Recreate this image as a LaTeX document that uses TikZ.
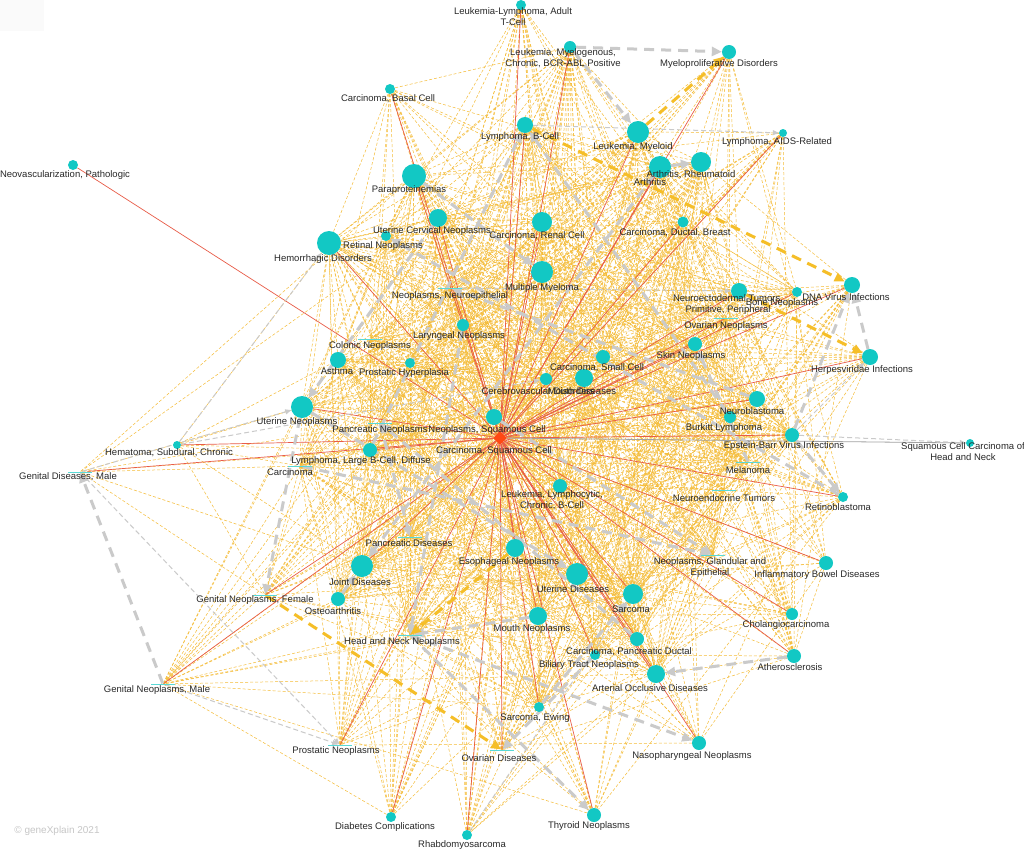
\documentclass[tikz,border=0pt]{standalone}
\usepackage{fontspec}
\setmainfont{Liberation Sans}
\usetikzlibrary{shapes.geometric,arrows.meta}
\pgfdeclarelayer{bgl}
\pgfdeclarelayer{edges}
\pgfsetlayers{bgl,edges,main}
\definecolor{cy}{RGB}{18,200,196}
\definecolor{yl}{RGB}{245,188,55}
\definecolor{ylt}{RGB}{245,190,40}
\definecolor{rdc}{RGB}{232,92,72}
\definecolor{grc}{RGB}{202,202,202}
\definecolor{tx}{RGB}{40,40,40}
\definecolor{ctr}{RGB}{255,72,20}
\begin{document}
\begin{tikzpicture}[x=1pt,y=-1pt,
  nd/.style={circle,fill=cy,inner sep=0pt,minimum size=#1pt},
  zn/.style={rectangle,fill=cy!70,inner sep=0pt,minimum width=24pt,minimum height=0.8pt},
  lbl/.style={font=\fontsize{9.5}{11}\selectfont,text=tx,align=center,inner sep=0pt},
  ye/.style={yl,line width=0.5pt,dash pattern=on 3pt off 2pt},
  re/.style={rdc,line width=0.7pt},
  gth/.style={grc,line width=3pt,dash pattern=on 10pt off 7pt,-{Triangle[length=10pt,width=9pt]}},
  gtn/.style={grc,line width=1pt,dash pattern=on 5pt off 3pt,-{Triangle[length=6pt,width=5pt]}},
  gsl/.style={grc!80!black,line width=0.8pt},
  yth/.style={ylt,line width=3pt,dash pattern=on 10pt off 7pt,-{Triangle[length=10pt,width=9pt]}}]
\useasboundingbox (0,0) rectangle (1024,851);
\begin{pgfonlayer}{bgl}
\fill[white] (0,0) rectangle (1024,851);
\fill[black!2] (0,0) rectangle (44,31);
\end{pgfonlayer}
% nodes
\node[nd=10] (lla) at (521,5) {};
\node[nd=12] (lmc) at (570,47) {};
\node[nd=14] (mpd) at (729,52) {};
\node[nd=10] (cbc) at (390,89) {};
\node[nd=16] (lbc) at (525,125) {};
\node[nd=22] (lmy) at (638,132) {};
\node[nd=22] (art) at (660,167) {};
\node[nd=20] (arr) at (701,162) {};
\node[nd=8] (lar) at (783,133) {};
\node[nd=24] (ppe) at (414,176) {};
\node[nd=18] (ucn) at (438,218) {};
\node[nd=10] (rtn) at (386,236) {};
\node[nd=24] (hmd) at (329,243) {};
\node[nd=20] (crc) at (542,222) {};
\node[nd=11] (cdb) at (683,222) {};
\node[nd=22] (mmy) at (542,272) {};
\node[zn] (nne) at (450,288) {};
\node[nd=16] (net) at (739,291) {};
\node[nd=10] (bon) at (797,292) {};
\node[nd=16] (dna) at (852,285) {};
\node[zn] (ovn) at (726,318) {};
\node[nd=14] (skn) at (695,344) {};
\node[nd=16] (hpv) at (870,357) {};
\node[nd=16] (nbl) at (757,399) {};
\node[nd=12] (bkl) at (730,417) {};
\node[nd=14] (ebv) at (792,435) {};
\node[nd=8] (sch) at (970,443) {};
\node[zn] (mel) at (748,462) {};
\node[zn] (nec) at (724,490) {};
\node[nd=10] (rtb) at (843,497) {};
\node[zn] (nge) at (713,555) {};
\node[nd=14] (ibd) at (826,563) {};
\node[nd=12] (cho) at (792,614) {};
\node[nd=14] (ath) at (794,656) {};
\node[nd=14] (nph) at (699,743) {};
\node[nd=14] (thy) at (594,815) {};
\node[nd=10] (rhb) at (467,835) {};
\node[nd=10] (dbc) at (391,817) {};
\node[zn] (ovd) at (502,750) {};
\node[nd=10] (ews) at (539,707) {};
\node[zn] (prn) at (340,745) {};
\node[zn] (gnm) at (163,684) {};
\node[zn] (gnf) at (265,595) {};
\node[zn] (gdm) at (80,472) {};
\node[nd=8] (hem) at (177,445) {};
\node[nd=22] (utn) at (302,407) {};
\node[zn] (col) at (370,339) {};
\node[nd=16] (ast) at (338,360) {};
\node[nd=10] (prh) at (410,363) {};
\node[nd=12] (lyn) at (463,325) {};
\node[nd=14] (csc) at (603,357) {};
\node[nd=18] (mod) at (584,378) {};
\node[nd=12] (cvd) at (546,379) {};
\node[nd=16] (nsc) at (494,417) {};
\node[zn] (pcn) at (380,423) {};
\node[diamond,fill=ctr,inner sep=0pt,minimum size=14pt] (sq) at (500,438) {};
\node[nd=14] (lld) at (370,450) {};
\node[zn] (car) at (300,466) {};
\node[nd=14] (llc) at (560,486) {};
\node[zn] (pcd) at (410,537) {};
\node[nd=18] (esn) at (515,548) {};
\node[nd=22] (jnd) at (362,566) {};
\node[nd=14] (ost) at (338,599) {};
\node[zn] (hnn) at (410,635) {};
\node[nd=22] (utd) at (577,574) {};
\node[nd=20] (sar) at (633,594) {};
\node[nd=18] (mon) at (538,616) {};
\node[nd=14] (cpd) at (637,639) {};
\node[nd=10] (btn) at (595,655) {};
\node[nd=18] (aod) at (656,674) {};
\node[nd=10] (neo) at (73,165) {};
% labels
\node[lbl] (lla-l) at (513,16.5) {Leukemia-Lymphoma, Adult\\T-Cell};
\node[lbl] (lmc-l) at (563,58.5) {Leukemia, Myelogenous,\\Chronic, BCR-ABL Positive};
\node[lbl] (mpd-l) at (719,64) {Myeloproliferative Disorders};
\node[lbl] (cbc-l) at (388,99) {Carcinoma, Basal Cell};
\node[lbl] (lbc-l) at (520,137) {Lymphoma, B-Cell};
\node[lbl] (lmy-l) at (633,147) {Leukemia, Myeloid};
\node[lbl] (art-l) at (650,182) {Arthritis};
\node[lbl] (arr-l) at (691,175) {Arthritis, Rheumatoid};
\node[lbl] (lar-l) at (777,142) {Lymphoma, AIDS-Related};
\node[lbl] (ppe-l) at (409,190) {Paraproteinemias};
\node[lbl] (ucn-l) at (432,231) {Uterine Cervical Neoplasms};
\node[lbl] (rtn-l) at (383,246) {Retinal Neoplasms};
\node[lbl] (hmd-l) at (323,259) {Hemorrhagic Disorders};
\node[lbl] (crc-l) at (537,236) {Carcinoma, Renal Cell};
\node[lbl] (cdb-l) at (675,233) {Carcinoma, Ductal, Breast};
\node[lbl] (mmy-l) at (542,288) {Multiple Myeloma};
\node[lbl] (nne-l) at (450,296) {Neoplasms, Neuroepithelial};
\node[lbl] (net-l) at (728,305) {Neuroectodermal Tumors,\\Primitive, Peripheral};
\node[lbl] (bon-l) at (782,303) {Bone Neoplasms};
\node[lbl] (dna-l) at (846,297) {DNA Virus Infections};
\node[lbl] (ovn-l) at (726,326) {Ovarian Neoplasms};
\node[lbl] (skn-l) at (691,356) {Skin Neoplasms};
\node[lbl] (hpv-l) at (862,370) {Herpesviridae Infections};
\node[lbl] (nbl-l) at (752,411) {Neuroblastoma};
\node[lbl] (bkl-l) at (724,428) {Burkitt Lymphoma};
\node[lbl] (ebv-l) at (784,446) {Epstein-Barr Virus Infections};
\node[lbl] (sch-l) at (963,452) {Squamous Cell Carcinoma of\\Head and Neck};
\node[lbl] (mel-l) at (748,470) {Melanoma};
\node[lbl] (nec-l) at (724,498) {Neuroendocrine Tumors};
\node[lbl] (rtb-l) at (838,507) {Retinoblastoma};
\node[lbl] (nge-l) at (710,568) {Neoplasms, Glandular and\\Epithelial};
\node[lbl] (ibd-l) at (817,575) {Inflammatory Bowel Diseases};
\node[lbl] (cho-l) at (786,625) {Cholangiocarcinoma};
\node[lbl] (ath-l) at (790,667) {Atherosclerosis};
\node[lbl] (nph-l) at (692,756) {Nasopharyngeal Neoplasms};
\node[lbl] (thy-l) at (589,826) {Thyroid Neoplasms};
\node[lbl] (rhb-l) at (462,845) {Rhabdomyosarcoma};
\node[lbl] (dbc-l) at (385,827) {Diabetes Complications};
\node[lbl] (ovd-l) at (499,758) {Ovarian Diseases};
\node[lbl] (ews-l) at (535,718) {Sarcoma, Ewing};
\node[lbl] (prn-l) at (336,751) {Prostatic Neoplasms};
\node[lbl] (gnm-l) at (157,690) {Genital Neoplasms, Male};
\node[lbl] (gnf-l) at (255,600) {Genital Neoplasms, Female};
\node[lbl] (gdm-l) at (68,477) {Genital Diseases, Male};
\node[lbl] (hem-l) at (169,453) {Hematoma, Subdural, Chronic};
\node[lbl] (utn-l) at (297,422) {Uterine Neoplasms};
\node[lbl] (col-l) at (370,346) {Colonic Neoplasms};
\node[lbl] (ast-l) at (337,371) {Asthma};
\node[lbl] (prh-l) at (404,373) {Prostatic Hyperplasia};
\node[lbl] (lyn-l) at (459,336) {Laryngeal Neoplasms};
\node[lbl] (csc-l) at (597,368) {Carcinoma, Small Cell};
\node[lbl] (mod-l) at (582,391) {Mouth Diseases};
\node[lbl] (cvd-l) at (538,391) {Cerebrovascular Disorders};
\node[lbl] (nsc-l) at (487,430) {Neoplasms, Squamous Cell};
\node[lbl] (pcn-l) at (380,430) {Pancreatic Neoplasms};
\node[lbl] (sq-l) at (494,451) {Carcinoma, Squamous Cell};
\node[lbl] (lld-l) at (361,461) {Lymphoma, Large B-Cell, Diffuse};
\node[lbl] (car-l) at (290,472) {Carcinoma};
\node[lbl] (llc-l) at (552,500) {Leukemia, Lymphocytic,\\Chronic, B-Cell};
\node[lbl] (pcd-l) at (409,543) {Pancreatic Diseases};
\node[lbl] (esn-l) at (509,562) {Esophageal Neoplasms};
\node[lbl] (jnd-l) at (360,582) {Joint Diseases};
\node[lbl] (ost-l) at (333,611) {Osteoarthritis};
\node[lbl] (hnn-l) at (402,642) {Head and Neck Neoplasms};
\node[lbl] (utd-l) at (573,589) {Uterine Diseases};
\node[lbl] (sar-l) at (631,609) {Sarcoma};
\node[lbl] (mon-l) at (532,629) {Mouth Neoplasms};
\node[lbl] (cpd-l) at (629,652) {Carcinoma, Pancreatic Ductal};
\node[lbl] (btn-l) at (589,665) {Biliary Tract Neoplasms};
\node[lbl] (aod-l) at (650,688) {Arterial Occlusive Diseases};
\node[lbl] (neo-l) at (65,175) {Neovascularization, Pathologic};
\node[font=\fontsize{10}{12}\selectfont,text=black!22,inner sep=0pt] (cpr) at (57,831) {© geneXplain 2021};
% edges
\def\core{lmc,lbc,lmy,art,arr,ppe,ucn,rtn,crc,cdb,mmy,nne,net,bon,ovn,skn,nbl,bkl,ebv,mel,nec,nge,utn,col,ast,prh,lyn,csc,mod,cvd,nsc,pcn,sq,lld,car,llc,pcd,esn,jnd,ost,hnn,utd,sar,mon,cpd,btn,aod,ews,hmd}
\def\peri{lla,mpd,cbc,lar,dna,hpv,rtb,ibd,cho,ath,nph,thy,rhb,dbc,ovd,prn,gnm,gnf}
\begin{pgfonlayer}{edges}
\pgfmathsetseed{11}
\foreach \a [count=\i] in \core {
  \foreach \b [count=\j] in \core {
    \ifnum\j>\i
      \pgfmathtruncatemacro\pick{rnd<0.62}
      \ifnum\pick=1 \draw[ye] (\a) -- (\b);\fi
    \fi
  }
}
\foreach \a in \peri {
  \foreach \b in \core {
    \pgfmathtruncatemacro\pick{rnd<0.32}
    \ifnum\pick=1 \draw[ye] (\a) -- (\b);\fi
  }
}
\foreach \a [count=\i] in \peri {
  \foreach \b [count=\j] in \peri {
    \ifnum\j>\i
      \pgfmathtruncatemacro\pick{rnd<0.15}
      \ifnum\pick=1 \draw[ye] (\a) -- (\b);\fi
    \fi
  }
}
\foreach \b in {utn,lld,car,gnf,jnd,ucn,ppe,pcn} \draw[ye] (gdm) -- (\b);
\foreach \b in {utn,lld,car,ast,jnd,gnf,hmd} \draw[ye] (hem) -- (\b);
% red
\foreach \b in {neo,lla,lmc,mpd,cbc,lbc,lmy,art,lar,ppe,ucn,hmd,crc,cdb,mmy,dna,net,bon,skn,hpv,nbl,ebv,rtb,ibd,cho,ath,nph,thy,rhb,dbc,ovd,prn,gnm,gnf,gdm,hem,utn,jnd,ews,aod,sar,cpd,lld,ovn,esn,mon,btn,utd}
  \draw[re] (sq) -- (\b);
% gray
\draw[gsl] (sq) -- (sch);
\draw[gtn] (ebv) -- (sch);
\draw[gth] (lmc) -- (mpd);
\draw[gth] (gnm) -- (gdm);
\draw[gth] (hnn) -- (thy);
\draw[gth] (hnn) -- (nph);
\draw[gth] (ath) -- (aod);
\draw[gth] (btn) -- (ovd);
\draw[gth] (mon) -- (hnn);
\draw[gth] (ost) -- (jnd);
\draw[gth] (art) -- (arr);
\draw[gth] (ebv) -- (dna);
\draw[gth] (hpv) -- (dna);
\draw[gth] (ebv) -- (rtb);
\draw[gth] (utn) -- (gnf);
\draw[gth] (car) -- (nge);
\draw[gth] (utn) -- (utd);
\draw[gth] (lmc) -- (lmy);
\draw[gth] (pcn) -- (pcd);
\draw[gth] (ews) -- (sar);
\draw[gth] (cpd) -- (pcn);
\draw[gth] (mel) -- (skn);
\draw[gth] (nbl) -- (nne);
\draw[gth] (rtb) -- (rtn);
\draw[gth] (ucn) -- (utn);
\draw[gth] (lyn) -- (hnn);
\draw[gth] (ppe) -- (mmy);
\draw[gth] (bkl) -- (lbc);
\draw[gth] (lld) -- (lbc);
\draw[gth] (art) -- (jnd);
\draw[gth] (nsc) -- (nge);
\draw[gtn] (gdm) -- (prn);
\draw[gtn] (gnm) -- (prn);
\draw[gtn] (rhb) -- (sar);
\draw[gtn] (lbc) -- (lar);
\draw[gtn] (nne) -- (net);
\draw[gtn] (ebv) -- (hpv);
\draw[gtn] (hem) -- (hmd);
\draw[gtn] (hem) -- (cvd);
\draw[gtn] (gdm) -- (utn);
% thick yellow
\draw[yth] (gnf) -- (ovd);
\draw[yth] (lmy) -- (mpd);
\draw[yth] (esn) -- (hnn);
\draw[yth] (net) -- (hpv);
\draw[yth] (lbc) -- (dna);
\end{pgfonlayer}
\end{tikzpicture}
\end{document}
